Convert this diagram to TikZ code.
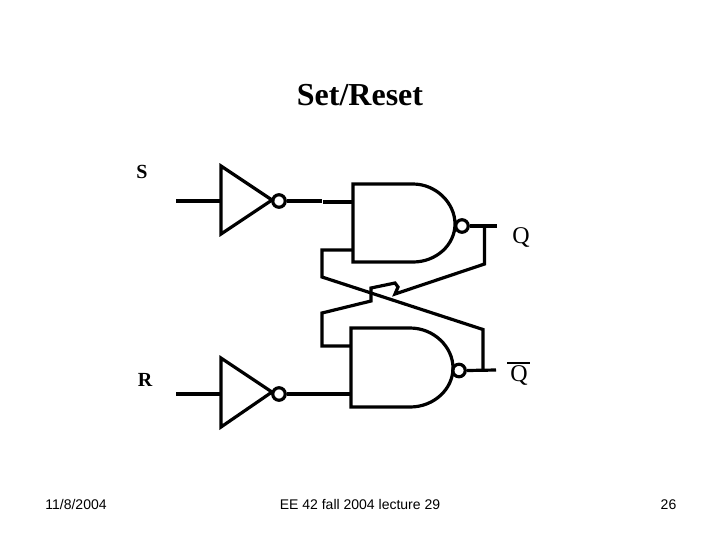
\documentclass[tikz,border=0pt]{standalone}
\usepackage{fontspec}
\setmainfont{Liberation Serif}
\newfontfamily\footfont{Liberation Sans}
\begin{document}
\begin{tikzpicture}[x=0.75pt, y=-0.75pt, line join=miter,
    wire/.style={line width=2.4pt},
    bubble/.style={circle, draw, line width=2.4pt, inner sep=0pt, minimum size=12.5*0.75pt},
    foot/.style={inner sep=0pt, anchor=base, font=\footfont\fontsize{10.5pt}{12pt}\selectfont},
    pinlabel/.style={inner sep=0pt, font=\bfseries\fontsize{15pt}{17pt}\selectfont},
    outlabel/.style={inner sep=0pt, font=\fontsize{18pt}{20pt}\selectfont}]
        \useasboundingbox (0, 0) rectangle (720, 540);

        \node[inner sep=0pt, font=\bfseries\fontsize{24pt}{28pt}\selectfont] (title) at (360, 95) {Set/Reset};
        \node[pinlabel] (S) at (142, 172) {S};
        \node[pinlabel] (R) at (145, 380) {R};
        \node[outlabel] (Q) at (521, 237) {Q};
        \node[outlabel] (Qbar) at (519, 375) {Q};
        \draw[line width=1.5pt] ([xshift=-2pt, yshift=1.7pt]Qbar.north west) -- ([xshift=1.5pt, yshift=1.7pt]Qbar.north east);

        % inverters
        \draw[wire] (221, 166) -- (272, 200) -- (221, 234) -- cycle;
        \draw[wire] (221, 358) -- (272, 392) -- (221, 427) -- cycle;
        \node[bubble] (bubS) at (279, 201) {};
        \node[bubble] (bubR) at (279, 394) {};

        % gates
        \draw[wire] (353, 184) -- (413, 184) .. controls (436, 184) and (455, 203) .. (455, 224)
                    .. controls (455, 245) and (436, 262) .. (413, 262) -- (353, 262) -- cycle;
        \draw[wire] (351, 328) -- (410, 328) .. controls (434, 328) and (453, 347) .. (453, 368)
                    .. controls (453, 389) and (434, 407) .. (410, 407) -- (351, 407) -- cycle;
        \node[bubble] (bubU) at (462, 226) {};
        \node[bubble] (bubL) at (459, 370.5) {};

        % inputs
        \coordinate (inS) at (176, 201);
        \coordinate (inR) at (176, 394);
        \coordinate (invS) at (221, 201);
        \coordinate (invR) at (221, 394);
        \coordinate (upA) at (353, 202);
        \coordinate (upB) at (353, 250);
        \coordinate (lowA) at (351, 346);
        \coordinate (lowB) at (351, 394);
        \draw[wire] (inS) -- (invS);
        \draw[wire] (inR) -- (invR);
        \draw[wire] (bubS.east) -- (322, 201);
        \draw[wire] (323, 202) -- (upA);
        \draw[wire] (bubR.east) -- (lowB);

        % outputs and cross coupling
        \coordinate (endU) at (497, 226);
        \coordinate (endL) at (496, 370);
        \coordinate (tapU) at (484.5, 226);
        \coordinate (tapL) at (483, 370);
        \draw[wire] (bubU.east) -- (endU);
        \draw[wire] (bubL.east) -- (endL);
        \draw[wire] (tapU) -- (484.5, 264) -- (395, 294) -- (398, 287) -- (395, 283) -- (371, 288) -- (371, 301)
                    -- (322, 313) -- (322, 346) -- (lowA);
        \draw[wire] (upB) -- (322, 250) -- (322, 277) -- (483, 329.5) -- (tapL);

        \node[foot] (date) at (76, 509) {11/8/2004};
        \node[foot] (lecture) at (360, 509) {EE 42 fall 2004 lecture 29};
        \node[foot] (page) at (668.5, 509) {26};
      \end{tikzpicture}
\end{document}
